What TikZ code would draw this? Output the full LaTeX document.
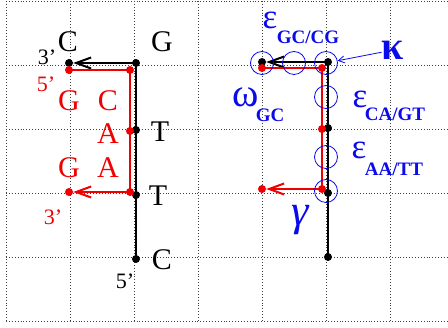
\documentclass[tikz,border=0pt]{standalone}
\usepackage{fontspec}
\setmainfont{Liberation Serif}
\usetikzlibrary{arrows.meta}
\definecolor{dnablue}{RGB}{10,10,235}
\definecolor{dnared}{RGB}{240,0,0}
\tikzset{
  gridline/.style={dotted, line width=0.9pt, black!75},
  bdot/.style={circle, fill=black, minimum size=8pt, inner sep=0pt},
  rdot/.style={circle, fill=dnared, minimum size=8pt, inner sep=0pt},
  bline/.style={line width=2.6pt, black},
  rline/.style={line width=2.6pt, dnared},
  tipb/.style={-{Straight Barb[length=15pt,width=11pt,line width=2pt]}},
  bigletter/.style={inner sep=0pt, font=\fontsize{30}{30}\selectfont},
  prime/.style={inner sep=0pt, font=\fontsize{22}{22}\selectfont},
  ring/.style={circle, draw=dnablue, line width=0.8pt, minimum size=23pt, inner sep=0pt},
  greek/.style={inner sep=0pt, text=dnablue},
  subs/.style={inner sep=0pt, text=dnablue, font=\fontsize{19}{19}\selectfont\bfseries},
}
\begin{document}
\begin{tikzpicture}[x=1pt,y=-1pt]
\useasboundingbox (0,0) rectangle (448,328);
\clip (0,0) rectangle (448,328);
% grid
\foreach \x in {6,70,134,198,262,326,390}
  \draw[gridline] (\x,1) -- (\x,321);
\foreach \y in {1,65,129,193,257,321}
  \draw[gridline] (6,\y) -- (448,\y);

% ---------- left figure ----------
\node[bdot] (lb1) at (69,63) {};
\node[bdot] (lb2) at (136,63) {};
\node[bdot] (lb3) at (136,130) {};
\node[bdot] (lb4) at (136,195) {};
\node[bdot] (lb5) at (136,259) {};
\draw[bline, tipb] (lb5.center) -- (lb4.center) -- (lb3.center) -- (lb2.center) -- (lb1);

\node[rdot] (lr1) at (69,70) {};
\node[rdot] (lr2) at (130,70) {};
\node[rdot] (lr3) at (130,131) {};
\node[rdot] (lr4) at (130,192) {};
\node[rdot] (lr5) at (69,192) {};
\draw[rline, tipb] (lr1.center) -- (lr2.center) -- (lr3.center) -- (lr4.center) -- (lr5);

\node[bigletter] (tC) at (68,42) {C};
\node[bigletter] (tG) at (162,42) {G};
\node[bigletter] (tT1) at (160,132) {T};
\node[bigletter] (tT2) at (158,196) {T};
\node[bigletter] (tC2) at (162,260) {C};
\node[bigletter, text=dnared] (rG1) at (69,101) {G};
\node[bigletter, text=dnared] (rC1) at (108,101) {C};
\node[bigletter, text=dnared] (rA1) at (108,134) {A};
\node[bigletter, text=dnared] (rG2) at (69,168) {G};
\node[bigletter, text=dnared] (rA2) at (108,168) {A};
\node[prime] (p3b) at (47,57) {3’};
\node[prime, text=dnared] (p5r) at (46,84) {5’};
\node[prime, text=dnared] (p3r) at (53,217) {3’};
\node[prime] (p5b) at (125,281) {5’};

% ---------- right figure ----------
\node[bdot] (rb1) at (262,62) {};
\node[bdot] (rb2) at (328,62) {};
\node[bdot] (rb3) at (328,128) {};
\node[bdot] (rb4) at (328,193) {};
\node[bdot] (rb5) at (328,257) {};
\draw[bline, tipb] (rb5.center) -- (rb4.center) -- (rb3.center) -- (rb2.center) -- (rb1);

\node[rdot] (rr1) at (262,68) {};
\node[rdot] (rr2) at (322,68) {};
\node[rdot] (rr3) at (322,129) {};
\node[rdot] (rr4) at (322,189) {};
\node[rdot] (rr5) at (262,189) {};
\draw[rline, tipb] (rr1.center) -- (rr2.center) -- (rr3.center) -- (rr4.center) -- (rr5);

\node[ring] (c1) at (262,63) {};
\node[ring] (c2) at (294,63) {};
\node[ring] (c3) at (326,63) {};
\node[ring] (c4) at (326,97) {};
\node[ring] (c5) at (326,157) {};
\node[ring] (c6) at (326,191) {};

\node[greek, font=\fontsize{35}{35}\selectfont] (e1) at (270,20) {ε};
\node[subs] (s1) at (308,37) {GC/CG};
\node[greek, font=\fontsize{40}{40}\selectfont\bfseries] (kap) at (393,50) {κ};
\draw[dnablue, line width=0.8pt, -{Straight Barb[length=6pt,width=7pt,line width=0.8pt]}] (kap) -- (c3);
\node[greek, font=\fontsize{40}{40}\selectfont] (om) at (246,97) {ω};
\node[subs] (s2) at (270,115) {GC};
\node[greek, font=\fontsize{35}{35}\selectfont] (e2) at (360,99) {ε};
\node[subs] (s3) at (395,114) {CA/GT};
\node[greek, font=\fontsize{35}{35}\selectfont] (e3) at (359,150) {ε};
\node[subs] (s4) at (394,169) {AA/TT};
\node[greek, font=\fontsize{44}{44}\selectfont\itshape] (gam) at (300,220) {γ};
\end{tikzpicture}
\end{document}
